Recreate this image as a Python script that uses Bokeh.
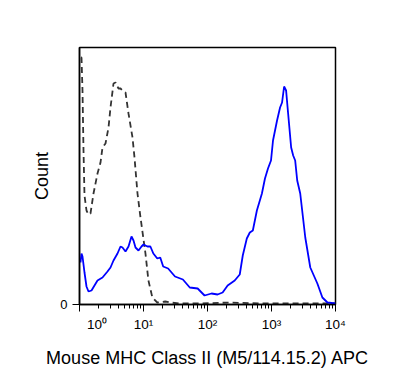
from bokeh.plotting import figure
from bokeh.models import FixedTicker, LogAxis, Range1d
from bokeh.embed import file_html
from bokeh.resources import INLINE

# ---- data ----
# stained sample (blue, solid): intensity vs count
stained_x = [1.037, 1.075, 1.114, 1.197, 1.286, 1.382, 1.540, 1.715, 1.911, 2.287,
             2.738, 3.051, 3.398, 3.924, 4.371, 4.695, 5.233, 5.831, 6.494, 6.980,
             7.499, 8.354, 9.306, 10.0, 11.52, 12.81, 14.25, 16.42, 18.26, 20.31,
             24.25, 31.07, 41.25, 52.86, 70.19, 89.9, 115.6, 143.7, 172.3, 206.5,
             266.2, 319.1, 355.7, 411.3, 458.4, 511.1, 591.0, 708.4, 790.6, 881.2,
             982.1, 1056, 1221, 1361, 1463, 1574, 1691, 1819, 2028, 2181,
             2344, 2522, 2811, 3371, 4037, 5207, 6238, 7482, 10000]
stained_y = [42, 51, 48, 32, 18, 13, 14, 19, 24, 27,
             33, 37, 44, 51, 58, 57, 53, 58, 68, 64,
             57, 54, 58, 60, 58, 58, 51, 46, 47, 38,
             36, 28, 25, 17, 16, 9, 11, 10, 12, 19,
             24, 30, 49, 66, 72, 74, 94, 111, 126, 136,
             144, 164, 184, 197, 202, 218, 214, 191, 157, 149,
             144, 124, 111, 67, 37, 21, 7, 2, 1]

# isotype control (dark grey, dashed)
control_x = [1.055, 1.075, 1.114, 1.155, 1.197, 1.286, 1.382, 1.485, 1.655, 1.911,
             2.130, 2.287, 2.549, 2.840, 3.051, 3.398, 3.652, 4.066, 4.371, 4.695,
             5.233, 5.831, 6.732, 7.233, 8.058, 8.977, 10.73, 11.94, 13.75, 16.42,
             21.81, 26.03, 37.08, 75.3, 221.8, 659.0, 2811, 10000]
control_y = [247, 247, 214, 154, 109, 94, 90, 91, 111, 131,
             142, 157, 161, 177, 197, 221, 222, 216, 216, 214,
             212, 191, 167, 147, 111, 87, 51, 24, 7, 2,
             3, 2, 1, 1, 2, 1, 1, 1]

decade_ticks = [1, 10, 100, 1000, 10000]
minor_ticks = [m * d for d in (1, 10, 100, 1000) for m in range(2, 10)]
# where each decade's label is centred (the first one sits right of the axis)
label_at = [1.88, 10, 100, 1000, 10000]
label_text = ["10\u2070", "10\u00b9", "10\u00b2", "10\u00b3", "10\u2074"]
y_ticks = [0]

x_label = "Mouse MHC Class II (M5/114.15.2) APC"
y_label = "Count"

FONT = "Liberation Sans"

p = figure(width=393, height=384, x_axis_type="log",
           x_range=Range1d(1, 10000), y_range=Range1d(0, 257),
           output_backend="svg", toolbar_location=None,
           min_border_left=79, min_border_right=58,
           min_border_top=47, min_border_bottom=80)

p.background_fill_color = "white"
p.border_fill_color = "white"
p.outline_line_color = "black"
p.outline_line_width = 1.5
p.xgrid.visible = False
p.ygrid.visible = False

p.line(control_x, control_y, line_color="#333333", line_width=1.8, line_dash="6 4")
p.line(stained_x, stained_y, line_color="#0000ff", line_width=1.8)

# x axis: tick marks only
xa = p.xaxis[0]
xa.ticker = FixedTicker(ticks=decade_ticks, minor_ticks=minor_ticks)
xa.major_label_overrides = {t: "" for t in decade_ticks}
xa.major_label_text_font_size = "0px"
xa.major_label_standoff = 0
xa.major_tick_out = 7
xa.major_tick_in = 0
xa.minor_tick_out = 4
xa.minor_tick_in = 0
xa.axis_line_width = 1.5
xa.axis_line_color = "black"
xa.major_tick_line_color = "black"
xa.minor_tick_line_color = "black"

# x axis: decade labels and title
xl = LogAxis(ticker=FixedTicker(ticks=label_at, minor_ticks=[]))
xl.major_label_overrides = dict(zip(label_at, label_text))
xl.major_label_text_font = FONT
xl.major_label_text_font_size = "13.5px"
xl.major_label_text_color = "black"
xl.major_label_standoff = 5
xl.major_tick_out = 0
xl.major_tick_in = 0
xl.major_tick_line_color = None
xl.minor_tick_line_color = None
xl.axis_line_color = None
xl.axis_label = x_label
xl.axis_label_text_font = FONT
xl.axis_label_text_font_size = "18px"
xl.axis_label_text_font_style = "normal"
xl.axis_label_text_color = "black"
xl.axis_label_standoff = 13
p.add_layout(xl, "below")

# y axis
ya = p.yaxis[0]
ya.ticker = FixedTicker(ticks=y_ticks, minor_ticks=[])
ya.major_tick_out = 7
ya.major_tick_in = 0
ya.major_label_standoff = 5
ya.major_label_text_font = FONT
ya.major_label_text_font_size = "13px"
ya.major_label_text_color = "black"
ya.axis_line_width = 1.5
ya.axis_line_color = "black"
ya.major_tick_line_color = "black"
ya.axis_label = y_label
ya.axis_label_text_font = FONT
ya.axis_label_text_font_size = "18px"
ya.axis_label_text_font_style = "normal"
ya.axis_label_text_color = "black"
ya.axis_label_standoff = 5

open("out.html", "w").write(file_html(p, INLINE))
